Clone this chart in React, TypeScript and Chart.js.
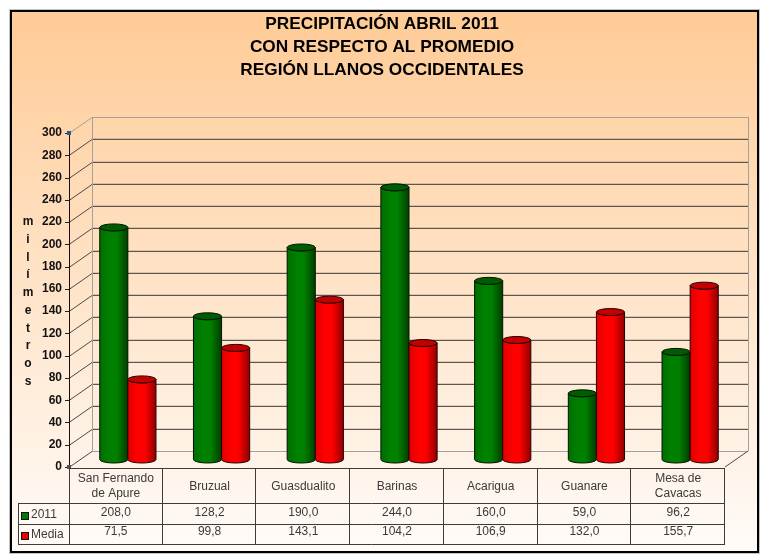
import React, { useEffect, useRef } from "react";
import { Chart, registerables } from "chart.js";

Chart.register(...registerables);

const stations = [["San Fernando", "de Apure"], "Bruzual", "Guasdualito", "Barinas", "Acarigua", "Guanare", ["Mesa de", "Cavacas"]];
const series2011 = [208.0, 128.2, 190.0, 244.0, 160.0, 59.0, 96.2];
const seriesMedia = [71.5, 99.8, 143.1, 104.2, 106.9, 132.0, 155.7];
const titleLines = ["PRECIPITACIÓN ABRIL 2011", "CON RESPECTO AL PROMEDIO", "REGIÓN LLANOS OCCIDENTALES"];
const axisLetters = ["m", "i", "l", "í", "m", "e", "t", "r", "o", "s"];
const FONT = '"Liberation Sans", Arial, sans-serif';

const DX = 23, DY = -16;

const fmt = (v: number) => v.toFixed(1).replace(".", ",");

const scene = {
  id: "scene",
  beforeDraw(chart: any) {
    const c = chart.ctx;
    c.save();
    c.fillStyle = "#ffffff";
    c.fillRect(0, 0, 761, 560);
    c.fillStyle = "#c4c4c4";
    c.fillRect(9, 9, 751, 545);
    const g = c.createLinearGradient(0, 12, 0, 550);
    g.addColorStop(0, "#ffcb96");
    g.addColorStop(1, "#fffbf8");
    c.fillStyle = "#000";
    c.fillRect(10, 10, 749, 543);
    c.fillStyle = g;
    c.fillRect(12, 12, 745, 539);
    c.restore();
  },
  beforeDatasetsDraw(chart: any) {
    const c = chart.ctx, y = chart.scales.y, a = chart.chartArea;
    const L = a.left, R = a.right, T = a.top, B = a.bottom;
    c.save();
    c.lineWidth = 1;
    y.ticks.forEach((t: any) => {
      const py = Math.round(y.getPixelForValue(t.value)) + 0.5;
      const isTop = t.value === 300, isBase = t.value === 0;
      c.strokeStyle = isTop || isBase ? "#a5a09a" : "#5a5650";
      c.beginPath();
      c.moveTo(L + DX, py + DY);
      c.lineTo(R + DX, py + DY);
      c.stroke();
      if (!isTop && !isBase) {
        c.strokeStyle = "rgba(0,0,0,0.14)";
        c.beginPath();
        c.moveTo(L + DX, py + DY - 1);
        c.lineTo(R + DX, py + DY - 1);
        c.stroke();
      }
      c.strokeStyle = isTop ? "#a5a09a" : "#4a4a4a";
      c.beginPath();
      c.moveTo(L, py);
      c.lineTo(L + DX, py + DY);
      c.stroke();
      c.strokeStyle = "#222";
      c.beginPath();
      c.moveTo(L - 4, py);
      c.lineTo(L, py);
      c.stroke();
    });
    c.strokeStyle = "#a5a09a";
    c.beginPath();
    c.moveTo(L + DX + 0.5, T + DY);
    c.lineTo(L + DX + 0.5, B + DY);
    c.moveTo(R + DX + 0.5, T + DY);
    c.lineTo(R + DX + 0.5, B + DY);
    c.stroke();
    c.strokeStyle = "#4a4a4a";
    c.beginPath();
    c.moveTo(R, B);
    c.lineTo(R + DX, B + DY);
    c.stroke();
    c.strokeStyle = "#111";
    c.beginPath();
    c.moveTo(L + 0.5, T);
    c.lineTo(L + 0.5, B);
    c.stroke();
    c.fillStyle = "#2a5a92";
    c.fillRect(L - 2, T - 2, 4, 4);
    c.fillStyle = "#555";
    c.fillRect(L - 2, B - 2, 4, 4);
    c.restore();
  },
  afterDatasetsDraw(chart: any) {
    const c = chart.ctx;
    const ox = DX / 2 + 0.5, oy = DY / 2, ry = 3.5;
    const palettes = [
      { l: "#006e00", m: "#008000", r: "#003e00", cap: "#005c00", line: "#001400" },
      { l: "#e00000", m: "#ff0000", r: "#900000", cap: "#c40000", line: "#240000" },
    ];
    chart.data.datasets.forEach((_: any, di: number) => {
      const p = palettes[di];
      chart.getDatasetMeta(di).data.forEach((el: any) => {
        const x0 = el.x - el.width / 2 + ox, x1 = el.x + el.width / 2 + ox;
        const top = el.y + oy, base = el.base + oy + 0.5;
        const cx = (x0 + x1) / 2, rx = (x1 - x0) / 2;
        const g = c.createLinearGradient(x0, 0, x1, 0);
        g.addColorStop(0, p.l);
        g.addColorStop(0.35, p.m);
        g.addColorStop(0.6, p.m);
        g.addColorStop(1, p.r);
        c.save();
        c.beginPath();
        c.moveTo(x0, top);
        c.lineTo(x0, base);
        c.ellipse(cx, base, rx, ry, 0, Math.PI, 0, true);
        c.lineTo(x1, top);
        c.ellipse(cx, top, rx, ry, 0, 0, Math.PI, false);
        c.closePath();
        c.fillStyle = g;
        c.fill();
        c.strokeStyle = p.line;
        c.lineWidth = 1;
        c.stroke();
        c.beginPath();
        c.ellipse(cx, top, rx, ry, 0, 0, Math.PI * 2);
        c.fillStyle = p.cap;
        c.fill();
        c.stroke();
        c.restore();
      });
    });
  },
  afterDraw(chart: any) {
    const c = chart.ctx, a = chart.chartArea, xs = chart.scales.x;
    const L = a.left, R = a.right, B = a.bottom;
    const rows = [503, 524, 544];
    const legendX = 18;
    c.save();
    c.strokeStyle = "#3c3c3c";
    c.lineWidth = 1;
    c.beginPath();
    c.moveTo(L, B + 1.5);
    c.lineTo(R, B + 1.5);
    rows.forEach((ry) => {
      c.moveTo(legendX, ry + 0.5);
      c.lineTo(R, ry + 0.5);
    });
    c.moveTo(legendX + 0.5, rows[0]);
    c.lineTo(legendX + 0.5, rows[2]);
    c.moveTo(L + 0.5, B);
    c.lineTo(L + 0.5, rows[2]);
    const cw = (R - L) / stations.length;
    stations.forEach((_, i) => {
      const px = Math.round(L + cw * (i + 1)) - 0.5;
      c.moveTo(px, B + 1);
      c.lineTo(px, rows[2]);
    });
    c.stroke();

    c.font = `12px ${FONT}`;
    c.fillStyle = "#3a3a3a";
    c.textBaseline = "middle";
    c.textAlign = "center";
    stations.forEach((_, i) => {
      const px = xs.getPixelForTick(i);
      c.fillText(fmt(series2011[i]), px, 513);
      c.fillText(fmt(seriesMedia[i]), px, 532);
    });
    c.textAlign = "left";
    c.fillText("2011", 31, 515);
    c.fillText("Media", 31, 535);
    [["#007a00", 513], ["#ee0000", 533]].forEach(([col, sy]) => {
      c.fillStyle = col as string;
      c.fillRect(22, sy as number, 6, 6);
      c.strokeStyle = "#111";
      c.strokeRect(21.5, (sy as number) - 0.5, 7, 7);
    });

    c.font = `bold 12px ${FONT}`;
    c.fillStyle = "#111";
    c.textAlign = "center";
    axisLetters.forEach((ch, i) => c.fillText(ch, 28, 222 + i * 17.7));
    c.restore();
  },
};

export default function App() {
  const ref = useRef<HTMLCanvasElement>(null);
  useEffect(() => {
    const chart = new Chart(ref.current!, {
      type: "bar",
      data: {
        labels: stations as any,
        datasets: [
          { label: "2011", data: series2011, backgroundColor: "rgba(0,128,0,0)", yAxisID: "y" },
          { label: "Media", data: seriesMedia, backgroundColor: "rgba(255,0,0,0)", yAxisID: "y" },
        ],
      },
      plugins: [scene],
      options: {
        responsive: false,
        animation: false,
        devicePixelRatio: 1,
        layout: { padding: { left: 3, right: 0, top: 0, bottom: 0 } },
        datasets: { bar: { categoryPercentage: 0.6, barPercentage: 1 } },
        plugins: {
          legend: { display: false },
          tooltip: { enabled: false },
          title: {
            display: true,
            text: titleLines,
            color: "#000",
            align: "center",
            font: { family: FONT, size: 17.25, weight: "bold", lineHeight: 1.333 },
            padding: { top: 13, bottom: 51 },
            fullSize: true,
          },
        },
        scales: {
          x: {
            grid: { display: false },
            border: { display: false },
            afterFit(s: any) { s.height = 93; },
            ticks: {
              autoSkip: false,
              maxRotation: 0,
              minRotation: 0,
              crossAlign: "center",
              padding: 4,
              color: "#3a3a3a",
              font: { family: FONT, size: 12, lineHeight: 1.2 },
            },
          },
          y: {
            min: 0,
            max: 300,
            grid: { display: false, drawTicks: false },
            border: { display: false },
            afterFit(s: any) { s.width = 66; },
            ticks: {
              stepSize: 20,
              padding: 7,
              color: "#111",
              font: { family: FONT, size: 12, weight: "bold" },
            },
          },
          gutter: {
            type: "linear",
            position: "right",
            min: 0,
            max: 300,
            grid: { display: false, drawTicks: false },
            border: { display: false },
            ticks: { display: false },
            afterFit(s: any) { s.width = 36; },
          },
        },
      },
    } as any);
    return () => chart.destroy();
  }, []);
  return <canvas ref={ref} width={761} height={560} style={{ position: "absolute", left: 0, top: 0 }} />;
}
